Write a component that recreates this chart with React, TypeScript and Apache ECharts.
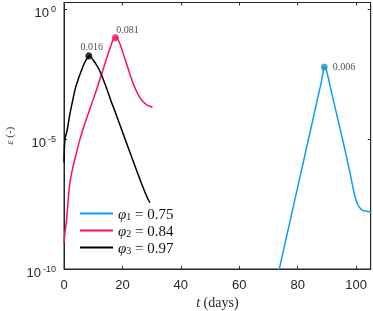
import React, { useEffect, useRef } from 'react';
import * as echarts from 'echarts';

// phi1 = 0.75 (blue)
const phi1T = [73, 76, 80, 84, 87, 88, 88.6, 89.1, 89.7, 90.4, 92, 94, 96.2, 98, 99.6, 100.5, 101.4, 102.2, 103.1, 104, 105];
const phi1Eps = [4.47e-11, 1.41e-9, 1.41e-7, 1.41e-5, 4.47e-4, 1.41e-3, 3.16e-3, 6.0e-3, 5.01e-3, 2.51e-3, 3.98e-4, 4.47e-5, 3.8e-6, 4.47e-7, 6.31e-8, 3.16e-8, 2.19e-8, 1.82e-8, 1.7e-8, 1.62e-8, 1.58e-8];

// phi2 = 0.84 (pink)
const phi2T = [0, 0.3, 0.8, 1.4, 2, 3, 4, 5.4, 7, 8.8, 10, 12, 14, 15, 16, 16.8, 17.6, 18.4, 19.2, 20, 21, 22, 23, 24, 25, 26, 27, 28, 29, 30.3];
const phi2Eps = [1e-9, 2.51e-9, 6.31e-9, 3.98e-8, 2.0e-7, 7.94e-7, 2.24e-6, 9.33e-6, 3.55e-5, 1.41e-4, 3.39e-4, 1.58e-3, 7.94e-3, 1.82e-2, 3.8e-2, 6.61e-2, 0.081, 7.08e-2, 4.47e-2, 2.4e-2, 1.12e-2, 5.01e-3, 2.24e-3, 1.12e-3, 6.31e-4, 3.98e-4, 2.82e-4, 2.24e-4, 1.91e-4, 1.7e-4];

// phi3 = 0.97 (black)
const phi3T = [0, 0.15, 0.4, 1, 2, 3, 4, 5, 6, 7, 8, 8.5, 9, 10, 11, 12, 13, 14, 15, 16, 17, 18, 20, 22, 24, 26, 28, 29.4];
const phi3Eps = [1.26e-6, 5.01e-6, 1.12e-5, 2.0e-5, 8.91e-5, 3.16e-4, 1.0e-3, 2.24e-3, 4.47e-3, 8.51e-3, 1.35e-2, 0.016, 1.51e-2, 1.12e-2, 7.59e-3, 4.79e-3, 2.69e-3, 1.35e-3, 6.61e-4, 3.16e-4, 1.58e-4, 7.94e-5, 1.91e-5, 4.68e-6, 1.12e-6, 2.82e-7, 7.59e-8, 3.55e-8];

const seriesNames = ['φ1 = 0.75', 'φ2 = 0.84', 'φ3 = 0.97'];
const seriesColors = ['#0a9ff5', '#ff0a6c', '#000000'];
const peakT = [89.1, 17.6, 8.5];
const peakEps = [0.006, 0.081, 0.016];
const peakLabels = ['0.006', '0.081', '0.016'];
const peakColors = ['#1b95c0', '#ee1166', '#000000'];

const xTicks = [0, 20, 40, 60, 80, 100];
const yTickExponents = [-10, -5, 0];

const SERIF = 'Liberation Serif';
const SANS = 'Liberation Sans';
const FRAME = '#262626';

export default function App() {
  const ref = useRef<HTMLDivElement>(null);
  useEffect(() => {
    if (!ref.current) return;
    const chart = echarts.init(ref.current, undefined, { renderer: 'svg' });
    const toPairs = (t: number[], e: number[]) => t.map((v, i) => [v, Math.log10(e[i])]);
    const allT = [phi1T, phi2T, phi3T];
    const allE = [phi1Eps, phi2Eps, phi3Eps];

    const lineSeries = seriesNames.map((name, i) => ({
      name,
      type: 'line',
      data: toPairs(allT[i], allE[i]),
      showSymbol: false,
      symbol: 'none',
      smooth: 0.35,
      clip: true,
      lineStyle: { color: seriesColors[i], width: 1.5 },
      itemStyle: { color: seriesColors[i] },
      z: 3,
    }));

    const labelCfg = [
      { position: 'right', distance: 5, offset: [0, 0] },
      { position: 'top', distance: 4, offset: [12, 4] },
      { position: 'top', distance: 4, offset: [3, 3] },
    ];
    const peakSeries = peakT.map((t, i) => ({
      type: 'scatter',
      data: [[t, Math.log10(peakEps[i])]],
      symbol: 'circle',
      symbolSize: 7,
      itemStyle: { color: peakColors[i] },
      label: {
        show: true,
        formatter: peakLabels[i],
        fontFamily: SERIF,
        fontSize: 10,
        color: '#222',
        ...labelCfg[i],
      },
      z: 5,
    }));

    const mkLine = () => ({ show: true, onZero: false, lineStyle: { color: FRAME, width: 1 } });
    const mkTick = () => ({ show: true, inside: true, length: 3, lineStyle: { color: FRAME, width: 1 } });

    chart.setOption({
      animation: false,
      grid: {
        left: 64,
        right: 2.3,
        top: 2.5,
        bottom: 42,
        containLabel: false,
        outerBoundsMode: 'none',
        show: true,
        borderColor: FRAME,
        borderWidth: 1,
        backgroundColor: 'transparent',
      },
      legend: {
        show: true,
        orient: 'vertical',
        left: 80,
        top: 206,
        padding: 0,
        data: seriesNames,
        icon: 'rect',
        itemWidth: 33,
        itemHeight: 2,
        itemGap: 1.5,
        formatter: (name: string) => {
          const m = name.match(/φ(\d) = (.*)/);
          return m ? `{p|φ}{s|${m[1]}}{v| = ${m[2]}}` : name;
        },
        textStyle: {
          rich: {
            p: { fontFamily: SERIF, fontStyle: 'italic', fontSize: 15, lineHeight: 16, color: '#111' },
            s: { fontFamily: SERIF, fontSize: 10, lineHeight: 10, verticalAlign: 'bottom', color: '#111' },
            v: { fontFamily: SERIF, fontSize: 15, lineHeight: 16, color: '#111' },
          },
        },
      },
      xAxis: [
        {
          type: 'value',
          min: 0,
          max: 105,
          interval: 20,
          position: 'bottom',
          axisLine: mkLine(),
          axisTick: mkTick(),
          splitLine: { show: false },
          axisLabel: {
            show: true,
            margin: 9,
            fontFamily: SANS,
            fontSize: 13,
            color: FRAME,
            showMaxLabel: false,
            formatter: (v: number) => (xTicks.includes(v) ? String(v) : ''),
          },
          name: '{i|t} (days)',
          nameLocation: 'middle',
          nameGap: 23,
          nameTextStyle: {
            fontFamily: SERIF,
            fontSize: 14,
            color: FRAME,
            rich: { i: { fontFamily: SERIF, fontStyle: 'italic', fontSize: 14, color: FRAME } },
          },
        },
        {
          type: 'value',
          min: 0,
          max: 105,
          interval: 20,
          position: 'top',
          axisLine: mkLine(),
          axisTick: mkTick(),
          splitLine: { show: false },
          axisLabel: { show: false },
        },
      ],
      yAxis: [
        {
          type: 'value',
          min: -10,
          max: 0.26,
          interval: 5,
          position: 'left',
          axisLine: mkLine(),
          axisTick: mkTick(),
          splitLine: { show: false },
          axisLabel: {
            show: true,
            margin: 8,
            padding: [6, 0, 0, 0],
            showMaxLabel: false,
            formatter: (v: number) => (yTickExponents.includes(v) ? `{b|10}{s|${v}}` : ''),
            rich: {
              b: { fontFamily: SANS, fontSize: 13, lineHeight: 16, color: FRAME },
              s: { fontFamily: SANS, fontSize: 9, lineHeight: 9, verticalAlign: 'top', color: FRAME, padding: [0, 0, 0, 2] },
            },
          },
          name: '{i|ε} (-)',
          nameLocation: 'middle',
          nameRotate: 90,
          nameGap: 50,
          nameTextStyle: {
            fontFamily: SERIF,
            fontSize: 11,
            color: '#333',
            rich: { i: { fontFamily: SERIF, fontStyle: 'italic', fontSize: 11, color: '#333' } },
          },
        },
        {
          type: 'value',
          min: -10,
          max: 0.26,
          interval: 5,
          position: 'right',
          axisLine: mkLine(),
          axisTick: mkTick(),
          splitLine: { show: false },
          axisLabel: { show: false },
        },
      ],
      series: [...lineSeries, ...peakSeries],
    });
    return () => chart.dispose();
  }, []);
  return <div ref={ref} style={{ position: 'fixed', left: 0, top: 0, width: 373, height: 311 }} />;
}
